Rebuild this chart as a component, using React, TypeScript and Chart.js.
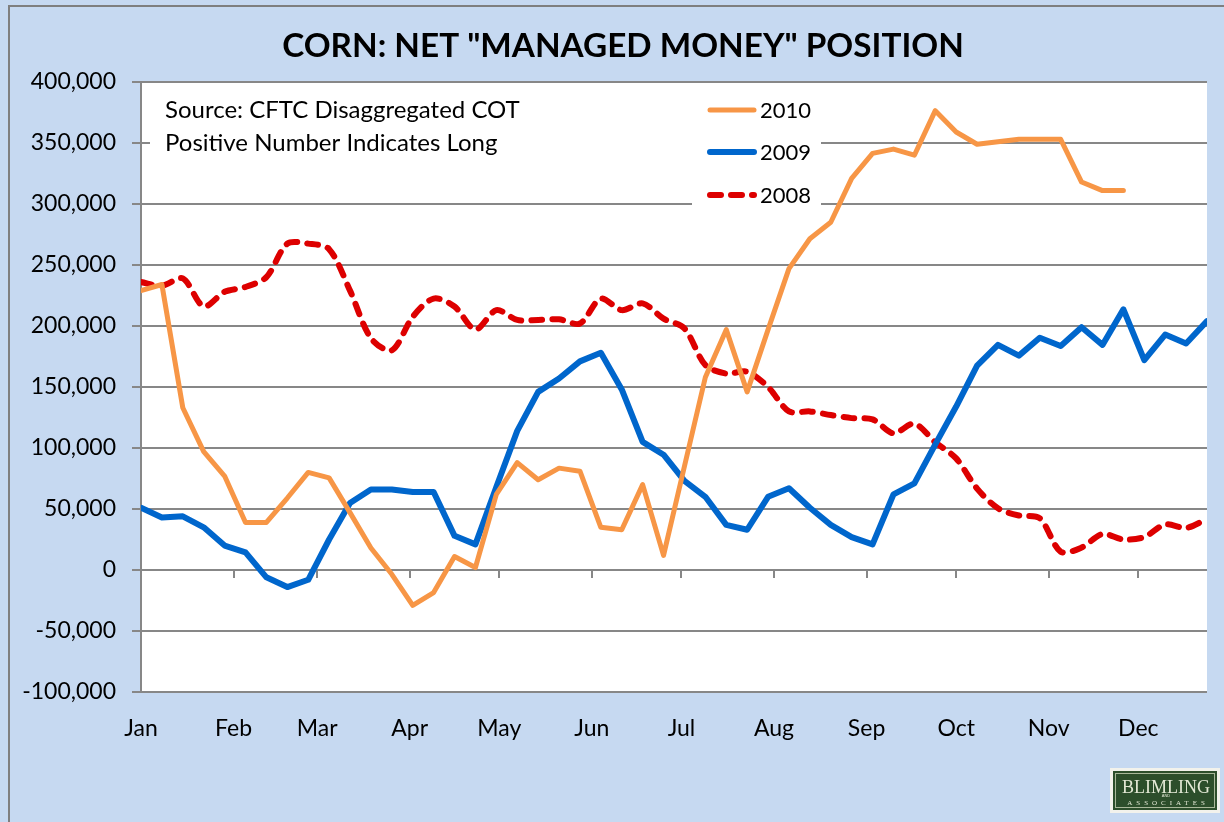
import React, { useEffect, useRef } from 'react';
import { Chart, registerables } from 'chart.js';

Chart.register(...registerables);

// Day of year of each weekly report (x positions on the date axis)
const reportDays = [
  0, 7, 14, 21, 28, 35, 42, 49, 56, 63, 70, 77, 84, 91, 98, 105, 112, 119, 126, 133,
  140, 147, 154, 161, 168, 175, 182, 189, 196, 203, 210, 217, 224, 231, 238, 245, 252,
  259, 266, 273, 280, 287, 294, 301, 308, 315, 322, 329, 336, 343, 350, 357,
];

const series2010 = [
  229000, 234000, 133000, 97000, 77000, 39000, 39000, 59000, 80000, 75500, 47000, 18000,
  -3500, -29000, -18500, 11000, 2000, 62000, 88000, 74000, 83500, 81000, 35000, 33000,
  70000, 12000, 85000, 158000, 197000, 146000, 197000, 247000, 271500, 285000, 321000,
  341500, 345000, 340000, 376500, 359000, 349000, 351000, 353000, 353000, 353000, 318000,
  311000, 311000,
];

const series2009 = [
  51000, 43000, 44000, 35000, 20000, 14500, -6000, -14000, -8000, 25000, 55000, 66000,
  66000, 64000, 64000, 28000, 21000, 68000, 114000, 146000, 157000, 171000, 178000, 148000,
  105000, 94500, 73000, 60000, 37000, 33000, 60000, 67000, 51000, 37000, 27000, 21000,
  62000, 71000, 103000, 134000, 167500, 184500, 175700, 190400, 183600, 199000, 184500,
  213700, 172000, 193000, 185700, 204000,
];

const series2008 = [
  236000, 233000, 239000, 216000, 228000, 232000, 240000, 267500, 267500, 263000, 229000,
  190000, 180000, 207500, 222500, 216000, 197000, 213000, 205000, 205000, 205500, 202000,
  222500, 213000, 218500, 206000, 198000, 168000, 161000, 162500, 150000, 130000, 130000,
  127000, 124500, 123500, 112000, 120000, 104700, 91500, 66700, 50600, 44700, 42400, 15000,
  18400, 29500, 25000, 27000, 37400, 34500, 41800,
];

const seriesNames = ['2010', '2009', '2008'];

const monthStartDays = [0, 31, 59, 90, 120, 151, 181, 212, 243, 273, 304, 334];
const monthLabels = ['Jan', 'Feb', 'Mar', 'Apr', 'May', 'Jun', 'Jul', 'Aug', 'Sep', 'Oct', 'Nov', 'Dec'];

const yMin = -100000;
const yMax = 400000;
const yStep = 50000;

const titleText = 'CORN: NET "MANAGED MONEY" POSITION';
const noteLines = ['Source: CFTC Disaggregated COT', 'Positive Number Indicates Long'];

const FONT = 'Lato';
const GRID = '#878787';
const BG = '#C6D9F1';

const decorPlugin = {
  id: 'decor',
  beforeDraw(chart: any) {
    const { ctx, chartArea: a, width, height } = chart;
    ctx.save();
    ctx.fillStyle = BG;
    ctx.fillRect(0, 0, width, height);
    ctx.fillStyle = '#7F7F7F';
    ctx.fillRect(8, 5, 2, height - 5);
    ctx.fillRect(8, 5, width - 8, 2);
    ctx.fillStyle = '#FFFFFF';
    ctx.fillRect(a.left, a.top, a.right - a.left, a.bottom - a.top);
    // chart title
    ctx.fillStyle = '#000000';
    ctx.font = `bold 33.3px ${FONT}`;
    ctx.textAlign = 'center';
    ctx.textBaseline = 'alphabetic';
    ctx.fillText(titleText, 623, 56.5);
    ctx.restore();
  },
  beforeDatasetsDraw(chart: any) {
    const { ctx, chartArea: a } = chart;
    const xs = chart.scales.x;
    const ys = chart.scales.y;
    ctx.save();
    // month tick marks on the zero line
    const y0 = ys.getPixelForValue(0);
    ctx.strokeStyle = GRID;
    ctx.lineWidth = 2;
    ctx.beginPath();
    monthStartDays.slice(1).forEach((d) => {
      const px = Math.round(xs.getPixelForValue(d));
      ctx.moveTo(px, y0);
      ctx.lineTo(px, y0 + 8);
    });
    ctx.stroke();

    // note text box
    ctx.fillStyle = '#FFFFFF';
    ctx.fillRect(a.left + 9, a.top + 6, 542, 84);
    ctx.fillStyle = '#000000';
    ctx.font = `24px ${FONT}`;
    ctx.textAlign = 'left';
    ctx.textBaseline = 'alphabetic';
    noteLines.forEach((t, i) => ctx.fillText(t, a.left + 24, a.top + 36 + i * 32.5));

    // legend box
    ctx.fillStyle = '#FFFFFF';
    ctx.fillRect(a.left + 551, a.top + 6, 129, 124);
    const rowsY = [a.top + 28, a.top + 70, a.top + 113];
    chart.data.datasets.forEach((ds: any, i: number) => {
      const cy = rowsY[i];
      ctx.strokeStyle = ds.borderColor;
      ctx.lineWidth = ds.borderWidth;
      ctx.lineCap = 'round';
      ctx.setLineDash(ds.borderDash || []);
      ctx.beginPath();
      ctx.moveTo(a.left + 569, cy);
      ctx.lineTo(a.left + 613, cy);
      ctx.stroke();
      ctx.setLineDash([]);
      ctx.fillStyle = '#000000';
      ctx.font = `22px ${FONT}`;
      ctx.textBaseline = 'middle';
      ctx.fillText(ds.label, a.left + 619, cy + 1);
    });
    ctx.restore();
  },
  afterDraw(chart: any) {
    const { ctx } = chart;
    ctx.save();
    ctx.fillStyle = '#F2F2EC';
    ctx.fillRect(1110, 768, 110, 45);
    ctx.fillStyle = '#2C4E2B';
    ctx.fillRect(1113, 771, 104, 39);
    ctx.strokeStyle = '#A9B89A';
    ctx.lineWidth = 1;
    ctx.strokeRect(1115.5, 773.5, 99, 34);
    ctx.fillStyle = '#E4E9D6';
    ctx.textAlign = 'center';
    ctx.textBaseline = 'alphabetic';
    ctx.font = '18px "Liberation Serif"';
    ctx.fillText('BLIMLING', 1166, 793);
    ctx.font = '4px "Liberation Sans"';
    ctx.fillText('AND', 1166, 797);
    ctx.font = '7px "Liberation Serif"';
    (ctx as any).letterSpacing = '4px';
    ctx.fillText('ASSOCIATES', 1168, 805);
    ctx.restore();
  },
};

export default function App() {
  const ref = useRef<HTMLCanvasElement | null>(null);

  useEffect(() => {
    if (!ref.current) return;
    Chart.defaults.font.family = FONT;
    const chart = new Chart(ref.current, {
      type: 'line',
      data: {
        labels: reportDays,
        datasets: [
          {
            label: seriesNames[0],
            data: series2010,
            borderColor: '#F79646',
            borderWidth: 5,
            pointRadius: 0,
            tension: 0,
            borderJoinStyle: 'round',
            borderCapStyle: 'round',
            fill: false,
          },
          {
            label: seriesNames[1],
            data: series2009,
            borderColor: '#0066CC',
            borderWidth: 6,
            pointRadius: 0,
            tension: 0,
            borderJoinStyle: 'round',
            borderCapStyle: 'round',
            fill: false,
          },
          {
            label: seriesNames[2],
            data: series2008,
            borderColor: '#DD0000',
            borderWidth: 6,
            borderDash: [11, 10],
            pointRadius: 0,
            tension: 0.3,
            borderJoinStyle: 'round',
            borderCapStyle: 'round',
            fill: false,
          },
        ],
      },
      options: {
        responsive: false,
        animation: false,
        events: [],
        layout: { padding: { left: 0, right: 17, top: 82, bottom: 0 } },
        scales: {
          x: {
            type: 'linear',
            min: reportDays[0],
            max: reportDays[reportDays.length - 1],
            afterBuildTicks: (s: any) => {
              s.ticks = monthStartDays.map((v) => ({ value: v }));
            },
            afterFit: (s: any) => {
              s.height = 130;
            },
            ticks: {
              autoSkip: false,
              maxRotation: 0,
              minRotation: 0,
              padding: 23,
              color: '#000000',
              font: { size: 23, family: FONT },
              callback: (_v: any, i: number) => monthLabels[i],
            },
            grid: { display: false, drawTicks: false },
            border: { display: false },
          },
          y: {
            min: yMin,
            max: yMax,
            afterFit: (s: any) => {
              s.width = 141;
            },
            ticks: {
              stepSize: yStep,
              padding: 16,
              color: '#000000',
              font: { size: 23, family: FONT },
              callback: (v: any) => Number(v).toLocaleString('en-US'),
            },
            grid: { color: GRID, lineWidth: 2, tickLength: 9, drawTicks: true },
            border: { display: true, color: GRID, width: 2 },
          },
        },
        plugins: {
          legend: { display: false },
          tooltip: { enabled: false },
          title: { display: false },
        },
      } as any,
      plugins: [decorPlugin],
    });
    return () => chart.destroy();
  }, []);

  return (
    <div style={{ position: 'fixed', left: 0, top: 0, width: 1224, height: 822, overflow: 'hidden' }}>
      <canvas ref={ref} width={1224} height={822} style={{ display: 'block' }} />
    </div>
  );
}
